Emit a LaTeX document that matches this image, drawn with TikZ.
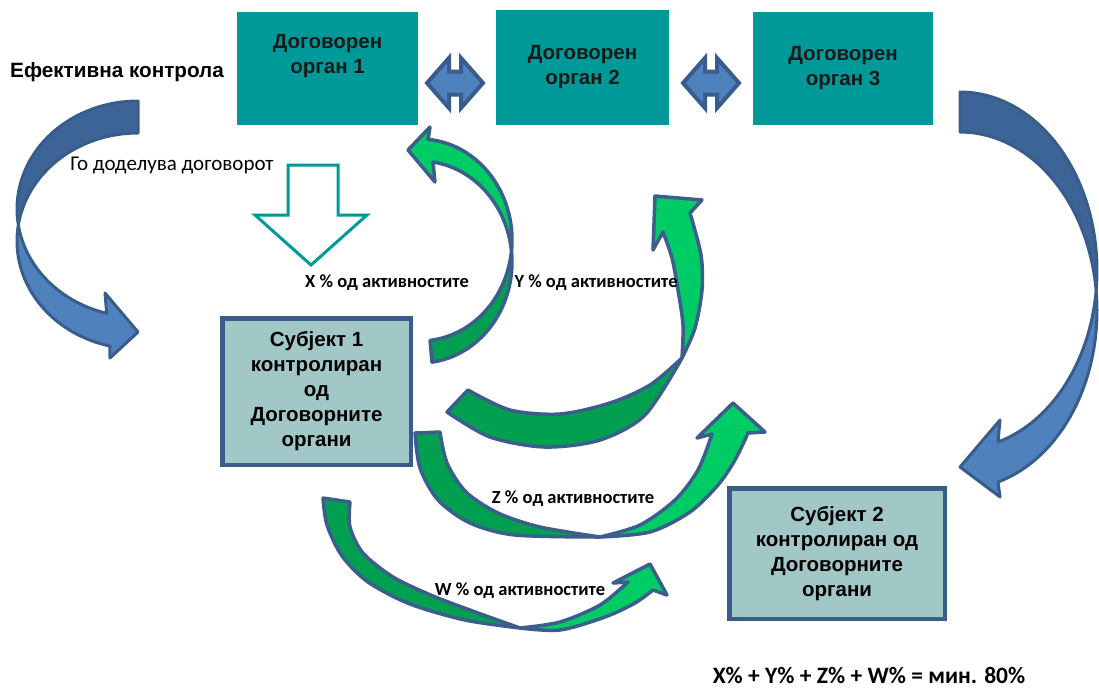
\documentclass[tikz,border=0pt]{standalone}
\usepackage{fontspec}
\setmainfont{Liberation Sans}
\newfontfamily\carl{Carlito}
\definecolor{teal1}{RGB}{0,153,153}
\definecolor{subfill}{RGB}{162,199,199}
\definecolor{subline}{RGB}{56,93,138}
\definecolor{bluedark}{RGB}{61,100,150}
\definecolor{bluelight}{RGB}{79,129,189}
\definecolor{blueline}{RGB}{56,93,138}
\definecolor{greendark}{RGB}{0,160,80}
\definecolor{greenlight}{RGB}{0,204,102}
\definecolor{greenline}{RGB}{59,94,140}
\begin{document}
\begin{tikzpicture}[x=1pt,y=-1pt,
  organ/.style={rectangle, fill=teal1, draw=none, inner sep=0},
  orgtext/.style={align=center, font=\bfseries\fontsize{20.5}{25}\selectfont, text=black!90, inner sep=0},
  subj/.style={rectangle, fill=subfill, draw=subline, line width=4.5, inner sep=0, align=center, font=\bfseries\fontsize{20.5}{25}\selectfont},
  dbl/.style={fill=bluelight, draw=blueline, line width=4, line join=miter},
  blueback/.style={fill=bluedark, draw=blueline, line width=3, line join=round},
  bluefront/.style={fill=bluelight, draw=blueline, line width=3, line join=round},
  greenback/.style={fill=greendark, draw=greenline, line width=3.5, line join=round},
  greenfront/.style={fill=greenlight, draw=greenline, line width=3.5, line join=round},
  pct/.style={font=\carl\bfseries\fontsize{18.5}{22}\selectfont, inner sep=0},
  hollow/.style={draw=teal1, line width=3, fill=white, line join=miter}
]
\useasboundingbox (0,0) rectangle (1099,689);

% contracting bodies
\node[organ, minimum width=181, minimum height=113] (o1) at (327.5,68.5) {};
\node[organ, minimum width=173, minimum height=115] (o2) at (582.5,67.5) {};
\node[organ, minimum width=180, minimum height=113] (o3) at (843,68.5) {};
\node[orgtext] (t1) at (327.5,56) {Договорен\\орган 1};
\node[orgtext] (t2) at (582.5,67) {Договорен\\орган 2};
\node[orgtext] (t3) at (843,68) {Договорен\\орган 3};

% double arrows between bodies
\coordinate (d1) at (455,83);
\coordinate (d2) at (711,83);
\foreach \c in {d1,d2}{
\draw[dbl, shift={(\c)}] (-28,0) -- (-6,-25) -- (-6,-11.5) -- (6,-11.5) -- (6,-25) -- (28,0) -- (6,25) -- (6,11.5) -- (-6,11.5) -- (-6,25) -- cycle;
}

% subjects
\node[subj, minimum width=188.5, minimum height=146.5] (s1) at (316.5,391.5) {Субјект 1\\контролиран\\од\\Договорните\\органи};
\node[subj, minimum width=215.5, minimum height=130.5] (s2) at (837,553.5) {Субјект 2\\контролиран од\\Договорните\\органи};

% left blue curved arrow
\path[blueback] plot[domain=270:171.5,samples=40,variable=\t] ({138+121*cos(\t)},{209+108*sin(\t)})
  -- plot[domain=188.5:270,samples=40,variable=\t] ({138+121*cos(\t)},{241+108*sin(\t)}) -- cycle;
\path[bluefront] plot[domain=171.5:105,samples=40,variable=\t] ({138+121*cos(\t)},{209+108*sin(\t)})
  -- (105,293) -- (138,332) -- (110,358)
  -- plot[domain=103.4:188.5,samples=40,variable=\t] ({138+121*cos(\t)},{241+108*sin(\t)}) -- cycle;

% right blue curved arrow
\path[blueback] plot[domain=-90:6.4,samples=40,variable=\t] ({960+137*cos(\t)},{270.5+178.5*sin(\t)})
  -- plot[domain=-6.4:-90,samples=40,variable=\t] ({960+137*cos(\t)},{310.5+178.5*sin(\t)}) -- cycle;
\path[bluefront] plot[domain=6.4:73.9,samples=40,variable=\t] ({960+137*cos(\t)},{270.5+178.5*sin(\t)})
  -- (1000,420) -- (960,467) -- (1000,497)
  -- plot[domain=73.9:-6.4,samples=40,variable=\t] ({960+137*cos(\t)},{310.5+178.5*sin(\t)}) -- cycle;

% hollow down arrow
\draw[hollow] (288,165) -- (338,165) -- (338,215) -- (367,215) -- (311,265) -- (255,215) -- (288,215) -- cycle;

% X arrow (subject 1 -> body 1)
\path[greenback] plot[domain=83.7:6.25,samples=40,variable=\t] ({420+92*cos(\t)},{240+101*sin(\t)})
  -- plot[domain=-6.25:82.5,samples=40,variable=\t] ({420+92*cos(\t)},{262+101*sin(\t)}) -- cycle;
\path[greenfront] plot[domain=6.25:-85,samples=40,variable=\t] ({420+92*cos(\t)},{240+101*sin(\t)})
  -- (430,127) -- (408,150) -- (435,182)
  -- plot[domain=-81.9:-6.25,samples=40,variable=\t] ({420+92*cos(\t)},{262+101*sin(\t)}) -- cycle;

% Y arrow
\path[greenback] plot[smooth] coordinates {(447,412) (490,437) (545,447) (600,440) (645,415) (682,358)}
  -- plot[smooth] coordinates {(682,358) (650,385) (610,403) (560,414) (510,410) (468,390)} -- cycle;
\path[greenfront] plot[smooth] coordinates {(682,358) (683,325) (678,290) (672,258) (663,232)}
  -- (653,250) -- (655,196) -- (702,200) -- (690,213)
  -- plot[smooth] coordinates {(690,213) (701,255) (702,290) (695,328) (682,358)} -- cycle;

% Z arrow
\path[greenback] plot[smooth] coordinates {(415,433) (420,468) (438,500) (470,523) (515,535) (600,537)}
  -- plot[smooth] coordinates {(600,537) (540,527) (498,513) (466,492) (447,463) (440,432)} -- cycle;
\path[greenfront] plot[smooth] coordinates {(600,537) (640,525) (675,500) (698,470) (712,434)}
  -- (697,438) -- (733,403) -- (765,432) -- (748,433)
  -- plot[smooth] coordinates {(748,433) (735,460) (718,485) (690,512) (650,532) (600,537)} -- cycle;

% W arrow
\path[greenback] plot[smooth] coordinates {(323,498) (327,525) (342,556) (368,582) (410,604) (465,620) (520,628)}
  -- plot[smooth] coordinates {(520,628) (478,613) (433,596) (393,577) (363,553) (350,527) (350,502)} -- cycle;
\path[greenfront] plot[smooth] coordinates {(520,628) (560,622) (600,605) (628,582)}
  -- (613,583) -- (650,564) -- (667,595) -- (653,590)
  -- plot[smooth] coordinates {(653,590) (635,603) (605,617) (560,630) (520,628)} -- cycle;

% texts
\node[anchor=west, font=\bfseries\fontsize{20.7}{24}\selectfont, inner sep=0] (ek) at (10,72) {Ефективна контрола};
\node[font=\carl\fontsize{21}{25}\selectfont, inner sep=0] (gd) at (172,165) {Го доделува договорот};
\node[pct] (px) at (387,283) {X \% од активностите};
\node[pct] (py) at (596,283) {Y \% од активностите};
\node[pct] (pz) at (573,499) {Z \% од активностите};
\node[pct] (pw) at (520,591) {W \% од активностите};
\node[font=\carl\bfseries\fontsize{23.5}{28}\selectfont, inner sep=0] (sum) at (869,675) {X\% + Y\% + Z\% + W\% = мин. 80\%};
\end{tikzpicture}
\end{document}
